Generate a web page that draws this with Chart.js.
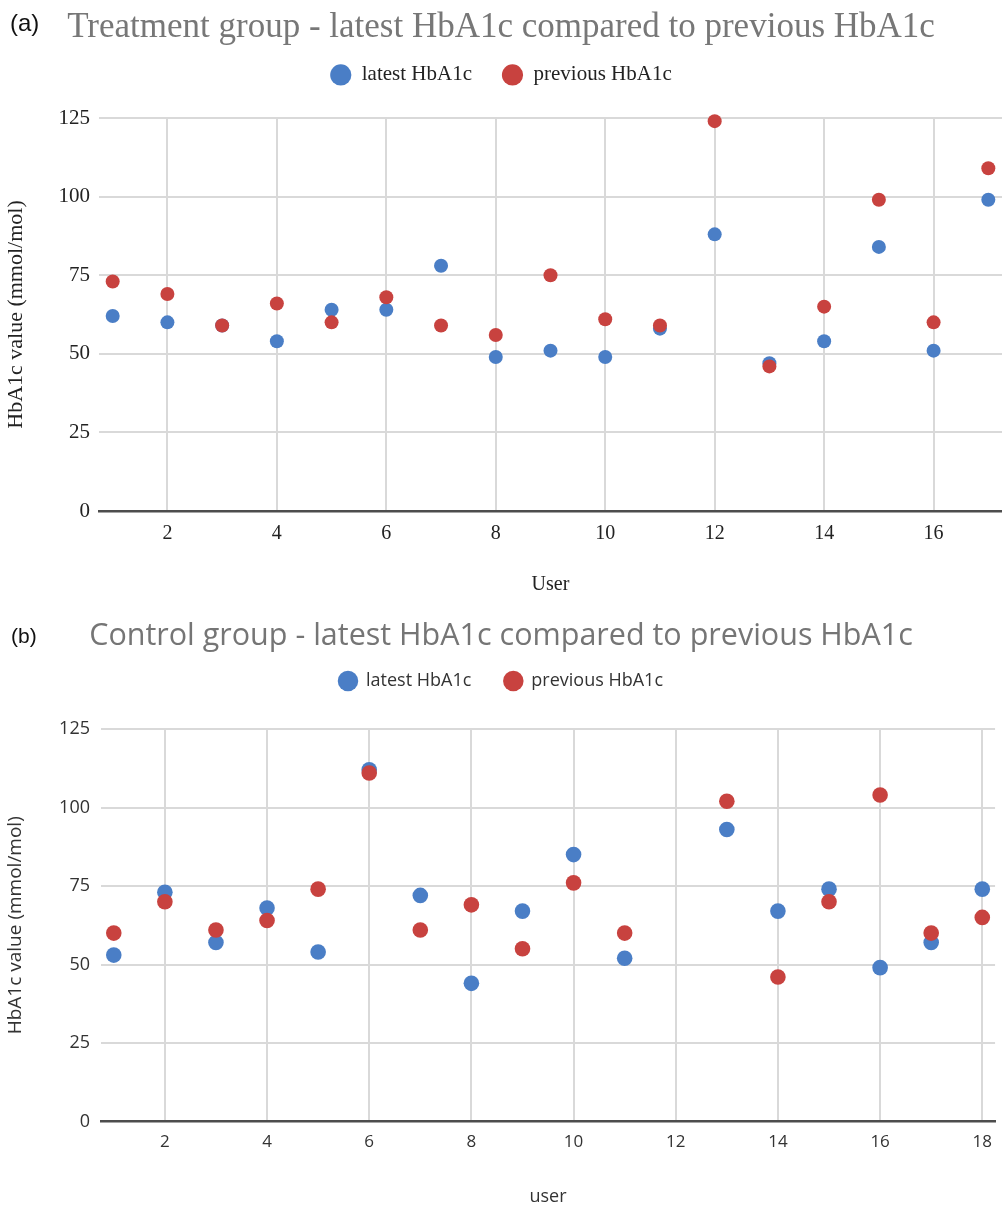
<!DOCTYPE html>
<html>
<head>
<meta charset="utf-8">
<script src="https://cdn.jsdelivr.net/npm/chart.js@4.4.1/dist/chart.umd.min.js"></script>
<style>
  html, body { margin: 0; padding: 0; background: #ffffff; }
  #wrap { position: relative; width: 1002px; height: 1205px; overflow: hidden; }
  .panel { position: absolute; left: 0; }
  .tag { position: absolute; font-family: "Liberation Sans", Arial, sans-serif; color: #111; line-height: 1; }
</style>
</head>
<body>
<div id="wrap">
  <canvas id="chartA" class="panel" style="top:0px" width="1002" height="600"></canvas>
  <canvas id="chartB" class="panel" style="top:600px" width="1002" height="605"></canvas>
  <div class="tag" style="left:10px; top:11px; font-size:24px;">(a)</div>
  <div class="tag" style="left:11px; top:625px; font-size:21px;">(b)</div>
</div>
<script>
// ---------- Data: (a) Treatment group ----------
const usersA = [1, 2, 3, 4, 5, 6, 7, 8, 9, 10, 11, 12, 13, 14, 15, 16, 17];
const latestA = [62, 60, 59, 54, 64, 64, 78, 49, 51, 49, 58, 88, 47, 54, 84, 51, 99];
const previousA = [73, 69, 59, 66, 60, 68, 59, 56, 75, 61, 59, 124, 46, 65, 99, 60, 109];
const xTicksA = [2, 4, 6, 8, 10, 12, 14, 16];

// ---------- Data: (b) Control group ----------
const usersB = [1, 2, 3, 4, 5, 6, 7, 8, 9, 10, 11, 13, 14, 15, 16, 17, 18];
const latestB = [53, 73, 57, 68, 54, 112, 72, 44, 67, 85, 52, 93, 67, 74, 49, 57, 74];
const previousB = [60, 70, 61, 64, 74, 111, 61, 69, 55, 76, 60, 102, 46, 70, 104, 60, 65];
const xTicksB = [2, 4, 6, 8, 10, 12, 14, 16, 18];

const yTicks = [0, 25, 50, 75, 100, 125];

const titleA = 'Treatment group - latest HbA1c compared to previous HbA1c';
const titleB = 'Control group - latest HbA1c compared to previous HbA1c';
const seriesNames = ['latest HbA1c', 'previous HbA1c'];
const xTitleA = 'User';
const xTitleB = 'user';
const yTitle = 'HbA1c value (mmol/mol)';

const BLUE = '#4a7ec6';
const RED = '#c8423f';

function toPoints(xs, ys) {
  return xs.map((x, i) => ({ x: x, y: ys[i] }));
}

// Plugin: fix the legend box height so the plot area starts where the reference does
const legendHeightPlugin = {
  id: 'legendHeight',
  beforeLayout(chart, args, opts) {
    const lg = chart.legend;
    if (lg && !lg._hPatched) {
      const orig = lg.fit.bind(lg);
      lg.fit = function () { orig(); this.height = opts.height; };
      lg._hPatched = true;
    }
  }
};

function makeChart(id, cfg) {
  const gridColor = '#d9d9d9';
  return new Chart(document.getElementById(id), {
    type: 'scatter',
    data: {
      datasets: [
        {
          label: seriesNames[0],
          data: toPoints(cfg.users, cfg.latest),
          backgroundColor: BLUE, borderColor: BLUE, borderWidth: 0,
          pointRadius: cfg.pointRadius, pointHoverRadius: cfg.pointRadius,
          order: 1, clip: false
        },
        {
          label: seriesNames[1],
          data: toPoints(cfg.users, cfg.previous),
          backgroundColor: RED, borderColor: RED, borderWidth: 0,
          pointRadius: cfg.pointRadius, pointHoverRadius: cfg.pointRadius,
          order: 0, clip: false
        }
      ]
    },
    plugins: [legendHeightPlugin],
    options: {
      responsive: false,
      animation: false,
      events: [],
      layout: { autoPadding: false, padding: { left: 0, right: 0, top: 0, bottom: 0 } },
      plugins: {
        legendHeight: { height: cfg.legendHeight },
        tooltip: { enabled: false },
        title: {
          display: true,
          text: cfg.title,
          color: cfg.titleColor,
          font: { family: cfg.family, size: cfg.titleSize, weight: 'normal', lineHeight: 1.2 },
          padding: { top: cfg.titlePadTop, bottom: cfg.titlePadBottom }
        },
        legend: {
          display: true,
          position: 'top',
          align: 'center',
          labels: {
            usePointStyle: true,
            pointStyle: 'circle',
            boxHeight: cfg.legendBox,
            padding: cfg.legendPad,
            color: cfg.textColor,
            font: { family: cfg.family, size: cfg.legendSize },
            sort: (a, b) => a.datasetIndex - b.datasetIndex
          }
        }
      },
      scales: {
        x: {
          type: 'linear',
          position: 'bottom',
          min: cfg.xMin,
          max: cfg.xMax,
          afterBuildTicks: (scale) => { scale.ticks = cfg.xTicks.map(v => ({ value: v })); },
          afterFit: (scale) => { scale.height = cfg.xHeight; },
          grid: { display: true, color: gridColor, lineWidth: 2, drawTicks: false },
          border: { display: true, color: '#4d4d4d', width: 2.5 },
          ticks: {
            padding: cfg.xTickPad,
            color: cfg.textColor,
            maxRotation: 0,
            autoSkip: false,
            font: { family: cfg.family, size: cfg.xTickSize }
          },
          title: {
            display: true,
            text: cfg.xTitle,
            color: cfg.textColor,
            font: { family: cfg.family, size: cfg.xTitleSize },
            padding: { top: 0, bottom: cfg.xTitlePadBottom }
          }
        },
        y: {
          type: 'linear',
          min: 0,
          max: 125,
          afterBuildTicks: (scale) => { scale.ticks = yTicks.map(v => ({ value: v })); },
          afterFit: (scale) => { scale.width = cfg.yWidth; },
          grid: {
            display: true,
            drawTicks: false,
            lineWidth: 2,
            color: (ctx) => (ctx.tick && ctx.tick.value === 0) ? 'rgba(0,0,0,0)' : gridColor
          },
          border: { display: false },
          ticks: {
            padding: cfg.yTickPad,
            color: cfg.textColor,
            font: { family: cfg.family, size: cfg.yTickSize }
          },
          title: {
            display: true,
            text: yTitle,
            color: cfg.textColor,
            font: { family: cfg.family, size: cfg.yTitleSize },
            padding: { top: cfg.yTitlePadTop, bottom: 0 }
          }
        }
      }
    }
  });
}

makeChart('chartA', {
  users: usersA, latest: latestA, previous: previousA, xTicks: xTicksA,
  xMin: 0.75, xMax: 17.25,
  title: titleA, xTitle: xTitleA,
  family: '"Liberation Serif", "Times New Roman", serif',
  titleColor: '#777777', textColor: '#222222',
  titleSize: 35, titlePadTop: 6.4, titlePadBottom: -14,
  legendSize: 21, legendBox: 15, legendPad: 30, legendHeight: 83.6,
  pointRadius: 7,
  xHeight: 89, yWidth: 99,
  xTickSize: 20, xTickPad: 11, yTickSize: 21, yTickPad: 9,
  xTitleSize: 20, xTitlePadBottom: 3,
  yTitleSize: 22, yTitlePadTop: 2.8
});

makeChart('chartB', {
  users: usersB, latest: latestB, previous: previousB, xTicks: xTicksB,
  xMin: 0.75, xMax: 18.25,
  title: titleB, xTitle: xTitleB,
  family: '"Open Sans", "Noto Sans", sans-serif',
  titleColor: '#757575', textColor: '#333333',
  titleSize: 30.5, titlePadTop: 18.5, titlePadBottom: -16.1,
  legendSize: 18, legendBox: 14.5, legendPad: 33, legendHeight: 90,
  pointRadius: 7.8,
  xHeight: 83.5, yWidth: 101,
  xTickSize: 17, xTickPad: 10, yTickSize: 18, yTickPad: 11,
  xTitleSize: 18, xTitlePadBottom: -3,
  yTitleSize: 19, yTitlePadTop: 4.6
});
</script>
</body>
</html>
